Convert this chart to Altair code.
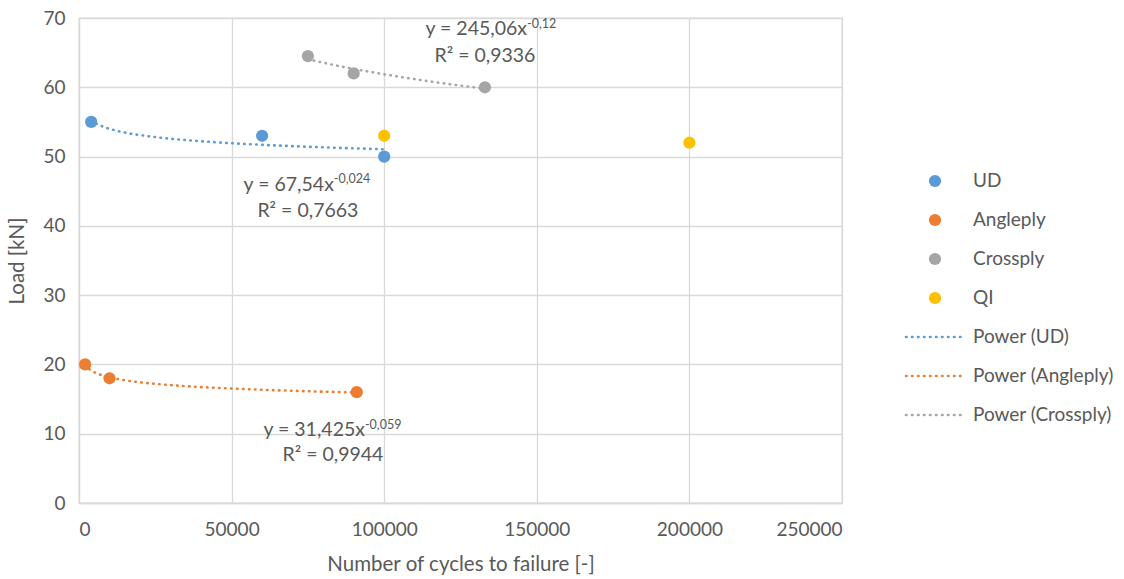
import altair as alt
import pandas as pd

# ---- data ----
ud_cycles = [4000, 60000, 100000]
ud_load = [55, 53, 50]
ang_cycles = [2000, 10000, 91000]
ang_load = [20, 18, 16]
cross_cycles = [75000, 90000, 133000]
cross_load = [64.5, 62, 60]
qi_cycles = [100000, 200000]
qi_load = [53, 52]

series_names = ["UD", "Angleply", "Crossply", "QI",
                "Power (UD)", "Power (Angleply)", "Power (Crossply)"]
series_colors = ["#5B9BD5", "#ED7D31", "#A5A5A5", "#FFC000",
                 "#5B9BD5", "#ED7D31", "#A5A5A5"]

# trendline equation labels (main text, superscript, R² text) and their anchors in data units
eq_main = ["y = 67,54x", "y = 31,425x", "y = 245,06x"]
eq_sup = ["-0,024", "-0,059", "-0,12"]
eq_r2 = ["R² = 0,7663", "R² = 0,9944", "R² = 0,9336"]
eq_x = [83500, 93700, 146800]
eq_y = [45.9, 10.5, 68.4]
sup_y = [46.8, 11.3, 69.1]
r2_x = [75000, 83200, 133000]
r2_y = [42.1, 6.9, 64.5]

rows = []
for name, xs, ys in [("UD", ud_cycles, ud_load), ("Angleply", ang_cycles, ang_load),
                     ("Crossply", cross_cycles, cross_load), ("QI", qi_cycles, qi_load)]:
    for xv, yv in zip(xs, ys):
        rows.append({"series": name, "cycles": xv, "load": yv})
df = pd.DataFrame(rows)

ann = pd.DataFrame({"main": eq_main, "sup": eq_sup, "r2": eq_r2,
                    "ex": eq_x, "ey": eq_y, "sy": sup_y, "rx": r2_x, "ry": r2_y})
leg_df = pd.DataFrame({"series": series_names})

FONT = "Lato"
TXT = "#595959"
MSIZE = 150

color_scale = alt.Scale(domain=series_names, range=series_colors)
DASH = [0.5, 5.5]

xscale = alt.Scale(domain=[0, 250000], nice=False)
yscale = alt.Scale(domain=[0, 70], nice=False)
xaxis = alt.Axis(values=[0, 50000, 100000, 150000, 200000, 250000], format="d",
                 title="Number of cycles to failure [-]", ticks=False,
                 labelPadding=17, titlePadding=15)
yaxis = alt.Axis(values=list(range(0, 71, 10)), title="Load [kN]", ticks=False,
                 labelPadding=14, titlePadding=15)

base = alt.Chart(df)

points = base.mark_point(filled=True, opacity=1, strokeWidth=0, size=MSIZE).encode(
    x=alt.X("cycles:Q", scale=xscale, axis=xaxis),
    y=alt.Y("load:Q", scale=yscale, axis=yaxis),
    color=alt.Color("series:N", scale=color_scale, legend=None),
)

trend = base.transform_filter(
    "datum.series != 'QI'"
).transform_regression(
    "cycles", "load", method="pow", groupby=["series"]
).transform_calculate(
    series="'Power (' + datum.series + ')'"
).mark_line(strokeWidth=2.6, strokeCap="round", strokeDash=DASH).encode(
    x=alt.X("cycles:Q", scale=xscale),
    y=alt.Y("load:Q", scale=yscale),
    color=alt.Color("series:N", scale=color_scale, legend=None),
)

annb = alt.Chart(ann)
t_main = annb.mark_text(align="right", baseline="middle", fontSize=19.5,
                        font=FONT, color=TXT).encode(
    x=alt.X("ex:Q", scale=xscale), y=alt.Y("ey:Q", scale=yscale), text="main:N")
t_sup = annb.mark_text(align="left", baseline="middle", fontSize=12.5,
                       font=FONT, color=TXT).encode(
    x=alt.X("ex:Q", scale=xscale), y=alt.Y("sy:Q", scale=yscale), text="sup:N")
t_r2 = annb.mark_text(align="center", baseline="middle", fontSize=19.5,
                      font=FONT, color=TXT).encode(
    x=alt.X("rx:Q", scale=xscale), y=alt.Y("ry:Q", scale=yscale), text="r2:N")

main = alt.layer(trend, points, t_main, t_sup, t_r2)

# ---- legend drawn as its own layer, rows placed by a point scale ----
leg_y = alt.Y("series:N", scale=alt.Scale(type="point", domain=series_names,
                                          range=[163, 397], padding=0), axis=None)
lb = alt.Chart(leg_df)
leg_pts = lb.transform_filter("indexof(datum.series, 'Power') !== 0").mark_point(
    filled=True, opacity=1, strokeWidth=0, size=MSIZE).encode(
    x=alt.value(856), y=leg_y,
    color=alt.Color("series:N", scale=color_scale, legend=None))
leg_lines = lb.transform_filter("indexof(datum.series, 'Power') === 0").mark_rule(
    strokeWidth=2.6, strokeCap="round", strokeDash=DASH).encode(
    x=alt.value(827), x2=alt.value(883), y=leg_y,
    color=alt.Color("series:N", scale=color_scale, legend=None))
leg_txt = lb.mark_text(align="left", baseline="middle", fontSize=19,
                       font=FONT, color=TXT).encode(
    x=alt.value(894), y=leg_y, text="series:N")
legend_layer = alt.layer(leg_pts, leg_lines, leg_txt)

chart = alt.layer(main, legend_layer).resolve_scale(y="independent").properties(
    width=763, height=485,
    autosize=alt.AutoSizeParams(type="none"),
    padding={"left": 79, "top": 18, "right": 282, "bottom": 76},
    background="white",
).configure_axis(
    gridColor="#D9D9D9", domainColor="#D9D9D9", gridWidth=1.3, domainWidth=1.3,
    labelFont=FONT, titleFont=FONT, labelFontSize=19, titleFontSize=20.5,
    labelColor=TXT, titleColor=TXT, titleFontWeight="normal",
).configure_view(stroke="#D9D9D9", strokeWidth=1.3)

chart.save("out.html", embed_options={"renderer": "svg", "actions": False})
